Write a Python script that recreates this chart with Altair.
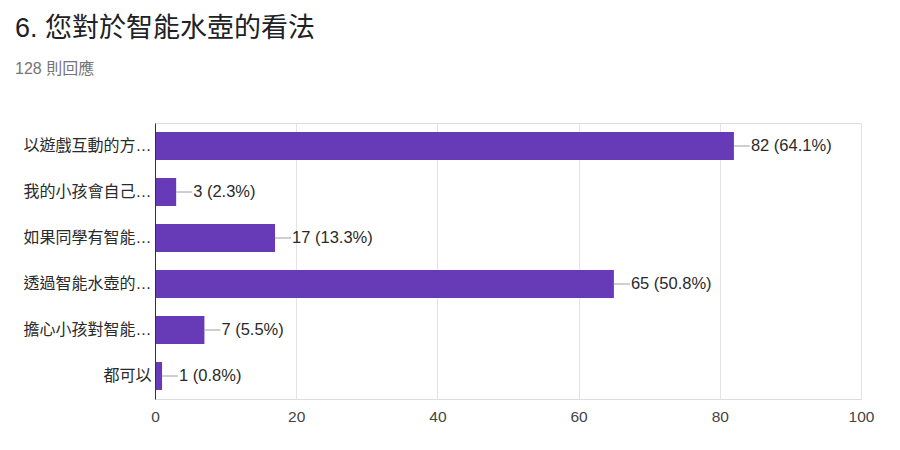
import altair as alt
import pandas as pd

categories = ["以遊戲互動的方…", "我的小孩會自己…", "如果同學有智能…", "透過智能水壺的…", "擔心小孩對智能…", "都可以"]
counts = [82, 3, 17, 65, 7, 1]
percents = ["64.1%", "2.3%", "13.3%", "50.8%", "5.5%", "0.8%"]
x_ticks = [0, 20, 40, 60, 80, 100]

df = pd.DataFrame({
    "cat": categories,
    "n": counts,
    "label": [f"{n} ({p})" for n, p in zip(counts, percents)],
})

FONT = "Liberation Sans, 'Noto Sans CJK TC', sans-serif"
PURPLE = "#673ab7"

x = alt.X("n:Q", scale=alt.Scale(domain=[0, 100], nice=False),
          axis=alt.Axis(values=x_ticks, title=None, domain=False, ticks=False,
                        labelPadding=10, labelFontSize=15.5, labelColor="#444444",
                        labelFont=FONT, gridColor="#e3e3e3", labelFlush=False))
y = alt.Y("cat:N", sort=categories,
          scale=alt.Scale(paddingInner=0.39, paddingOuter=0.195),
          axis=alt.Axis(title=None, ticks=False, domainColor="#333333", domainWidth=1,
                        labelPadding=4, labelFontSize=16, labelColor="#2a2a2a",
                        labelFont=FONT, grid=False, zindex=1, labelLimit=300))

bars = alt.Chart(df).mark_bar(color=PURPLE).encode(x=x, y=y)
rules = alt.Chart(df).mark_rule(color="#9e9e9e", strokeWidth=1, x2Offset=16).encode(
    x="n:Q", x2="n:Q", y=alt.Y("cat:N", sort=categories, scale=alt.Scale(paddingInner=0.39, paddingOuter=0.195)))
texts = alt.Chart(df).mark_text(align="left", baseline="middle", dx=17, fontSize=16.5,
                                font=FONT, color="#2a2a2a").encode(
    x="n:Q", y=alt.Y("cat:N", sort=categories), text="label:N")

chart = alt.layer(bars, rules, texts).properties(
    width=706, height=276,
    title=alt.TitleParams(
        text="6. 您對於智能水壺的看法",
        subtitle="128 則回應",
        anchor="start", frame="group", dx=-140, offset=45,
        font=FONT, fontSize=27, fontWeight="normal", color="#202124",
        subtitleFont=FONT, subtitleFontSize=16, subtitleColor="#757575",
        subtitlePadding=18,
    ),
    autosize=alt.AutoSizeParams(type="none"),
    padding={"left": 147, "top": 115, "right": 30, "bottom": 40},
).configure_view(stroke="#ececec").configure(background="white")

chart.save("out.html", embed_options={"renderer": "svg", "actions": False})
